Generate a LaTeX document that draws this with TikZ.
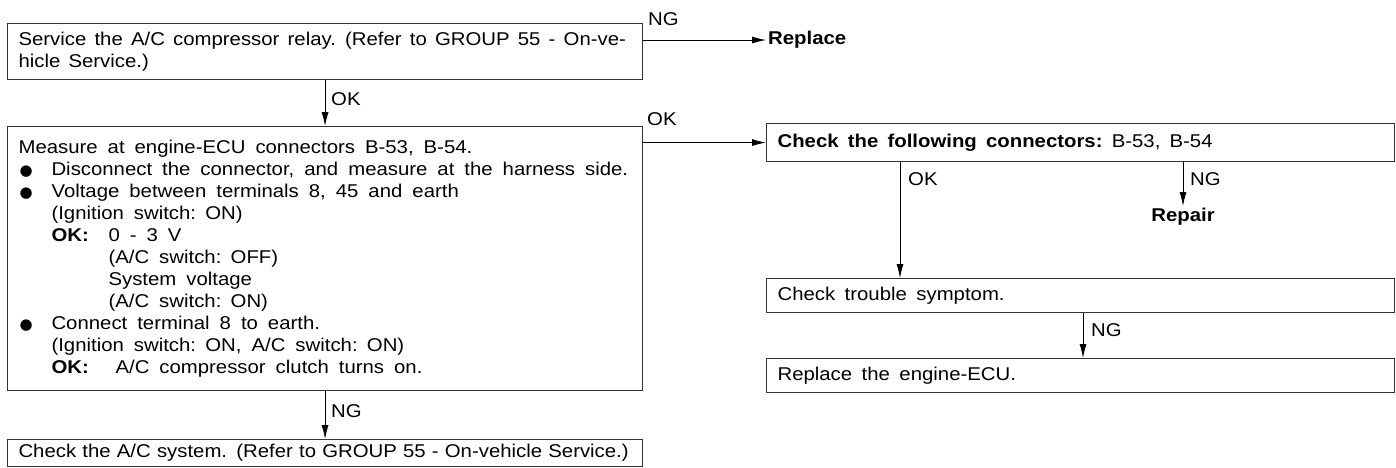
\documentclass[tikz,border=0pt]{standalone}
\usepackage{fontspec}
\setmainfont{Liberation Sans}[FakeStretch=1.1]
\newfontfamily\dotfont{DejaVu Sans}
\usetikzlibrary{arrows.meta}
\DeclareRobustCommand\widesp[1]{\spaceskip=#1 plus 1pt minus 1pt\relax}
\DeclareRobustCommand\mainfnt{\fontsize{18.5}{22}\selectfont}
\newcommand{\blt}{\makebox[33pt][l]{\hspace{1pt}{\dotfont\fontsize{15}{22}\selectfont ●}}}
\begin{document}
\begin{tikzpicture}[x=1pt,y=-1pt,
  font=\mainfnt,
  box/.style={draw=black!80, line width=1.1pt, anchor=north west, inner xsep=11pt, inner ysep=0pt,
    align=left, text width=#1},
  arr/.style={line width=0.8pt, -{Latex[length=14pt,width=7pt]}},
  lbl/.style={anchor=west, inner sep=1pt}]
\useasboundingbox (0,0) rectangle (1396,467);

\node[box=613pt, minimum height=56pt] (b1) at (7,23)
  {\widesp{8.2pt}\mbox{Service the A/C compressor relay. (Refer to GROUP 55 - On-ve-}\\hicle Service.)};
\node[box=613pt, minimum height=264pt] (b2) at (7,126)
  {\widesp{10pt}\mbox{Measure at engine-ECU connectors B-53, B-54.}\\
   \mbox{\blt Disconnect the connector, and measure at the harness side.}\\
   \mbox{\blt Voltage between terminals 8, 45 and earth}\\
   \mbox{\hspace*{33pt}(Ignition switch: ON)}\\
   \mbox{\hspace*{33pt}\makebox[57pt][l]{\bfseries OK:}0 - 3 V}\\
   \mbox{\hspace*{90pt}(A/C switch: OFF)}\\
   \mbox{\hspace*{90pt}System voltage}\\
   \mbox{\hspace*{90pt}(A/C switch: ON)}\\
   \mbox{\blt Connect terminal 8 to earth.}\\
   \mbox{\hspace*{33pt}(Ignition switch: ON, A/C switch: ON)}\\
   \mbox{\hspace*{33pt}\makebox[64pt][l]{\bfseries OK:}A/C compressor clutch turns on.}};
\node[box=613pt, minimum height=27pt] (b3) at (7,439)
  {\widesp{6.2pt}\mbox{Check the A/C system. (Refer to GROUP 55 - On-vehicle Service.)}};
\node[box=606pt, minimum height=38pt] (b4) at (766,123)
  {\widesp{9.2pt}\mbox{\textbf{Check the following connectors:} B-53, B-54}};
\node[box=606pt, minimum height=34pt] (b5) at (766,278)
  {\widesp{9.5pt}Check trouble symptom.};
\node[box=606pt, minimum height=34pt] (b6) at (766,358)
  {\widesp{9.5pt}Replace the engine-ECU.};

\node[anchor=west, inner sep=2pt] (rep) at (766,40) {\bfseries Replace};
\node[anchor=north, inner sep=2pt] (rp) at (1183,206) {\bfseries Repair};

\draw[arr] (b1.east |- rep.west) -- (rep.west);
\node[lbl] (ng1) at (647,19) {NG};

\draw[arr] (b1.south) -- (b2.north);
\node[lbl] (ok1) at (330,99) {OK};

\draw[arr] (b2.south) -- (b3.north);
\node[lbl] (ng2) at (330,411) {NG};

\draw[arr] (b2.east |- b4.west) -- (b4.west);
\node[lbl] (ok2) at (646,119) {OK};

\coordinate (okx) at (900,0);
\draw[arr] (b4.south -| okx) -- (b5.north -| okx);
\node[lbl] (ok3) at (907,179) {OK};

\draw[arr] (b4.south -| rp.north) -- (rp.north);
\node[lbl] (ng3) at (1189,179) {NG};

\coordinate (ngx) at (1083,0);
\draw[arr] (b5.south -| ngx) -- (b6.north -| ngx);
\node[lbl] (ng4) at (1090,330) {NG};
\end{tikzpicture}
\end{document}
